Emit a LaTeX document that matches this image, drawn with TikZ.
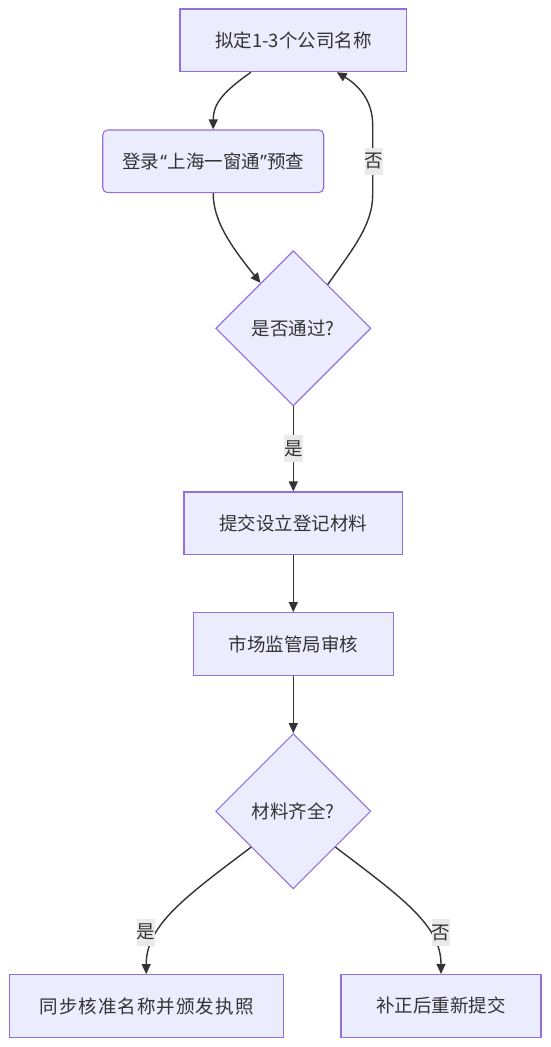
\documentclass[tikz,border=0pt]{standalone}
\usepackage{fontspec}
\setmainfont{Noto Sans CJK SC}
\newfontfamily\quotefont{Noto Sans}
\usetikzlibrary{arrows.meta,shapes.geometric,calc}
\definecolor{nodefill}{HTML}{ECECFF}
\definecolor{nodeline}{HTML}{9370DB}
\definecolor{edgeline}{HTML}{333333}
\definecolor{lblbg}{HTML}{EAEAEA}
\definecolor{txt}{HTML}{333333}
\begin{document}
\begin{tikzpicture}[x=1pt,y=-1pt,
  base/.style={draw=nodeline, fill=nodefill, line width=1.1pt, text=txt,
    font=\fontsize{18.5pt}{22pt}\selectfont, inner sep=0pt},
  procbox/.style={base, rectangle, minimum height=62.7pt},
  decbox/.style={base, diamond, minimum width=155.2pt, minimum height=155.2pt},
  flow/.style={draw=edgeline, line width=1.4pt, -{Triangle[length=10pt,width=9pt]}},
  lbl/.style={fill=lblbg, text=txt, inner sep=0pt, minimum width=18.5pt,
    minimum height=27pt, font=\fontsize{18.5pt}{22pt}\selectfont}
]
\useasboundingbox[fill=white] (0,0) rectangle (550,1047);

\node[procbox, minimum width=226.7pt] (n1) at (293.3,40.3) {拟定1-3个公司名称};
\node[procbox, minimum width=221pt, rounded corners=5pt] (n2) at (213.2,161.3) {登录\kern1pt{\quotefont “}\kern1pt上海一窗通{\quotefont ”}预查};
\node[decbox] (d1) at (293.3,328.3) {是否通过?};
\node[procbox, minimum width=218.7pt] (n4) at (293.3,523.3) {提交设立登记材料};
\node[procbox, minimum width=200pt] (n5) at (293.3,644) {市场监管局审核};
\node[decbox] (d2) at (293.3,811.2) {材料齐全?};
\node[procbox, minimum width=274.3pt] (n7) at (146.2,1006) {\addfontfeatures{LetterSpace=5.5}同步核准名称并颁发执照\kern-1pt};
\node[procbox, minimum width=200pt] (n8) at (441,1005.8) {补正后重新提交};

% edges
\draw[flow] ($(n1.south)+(-42.3,0)$) .. controls ($(n1.south)+(-71.3,20.3)$) and ($(n2.north)+(0,-25)$) .. (n2.north);
\draw[flow] (n2.south) .. controls ($(n2.south)+(0,27.3)$) and (230,245) .. ($(d1.north)!0.42!(d1.west)$);
\draw[flow] ($(d1.north)!0.44!(d1.east)$) .. controls (352,250) and (372.7,225) .. (372.7,195)
   -- (372.7,125) .. controls (372.7,100) and (358,85) .. ($(n1.south)+(43.4,0)$);
\draw[flow] (d1.south) -- (n4.north);
\draw[flow] (n4.south) -- (n5.north);
\draw[flow] (n5.south) -- (d2.north);
\draw[flow] ($(d2.west)!0.46!(d2.south)$) .. controls (185,897) and ($(n7.north)+(0,-49)$) .. (n7.north);
\draw[flow] ($(d2.east)!0.46!(d2.south)$) .. controls (401,897) and ($(n8.north)+(0,-49)$) .. (n8.north);

% labels
\node[lbl] (l1) at (374,161) {否};
\node[lbl] (l2) at (293.3,448.5) {是};
\node[lbl] (l3) at (146,932) {是};
\node[lbl] (l4) at (441,932.5) {否};
\end{tikzpicture}
\end{document}
